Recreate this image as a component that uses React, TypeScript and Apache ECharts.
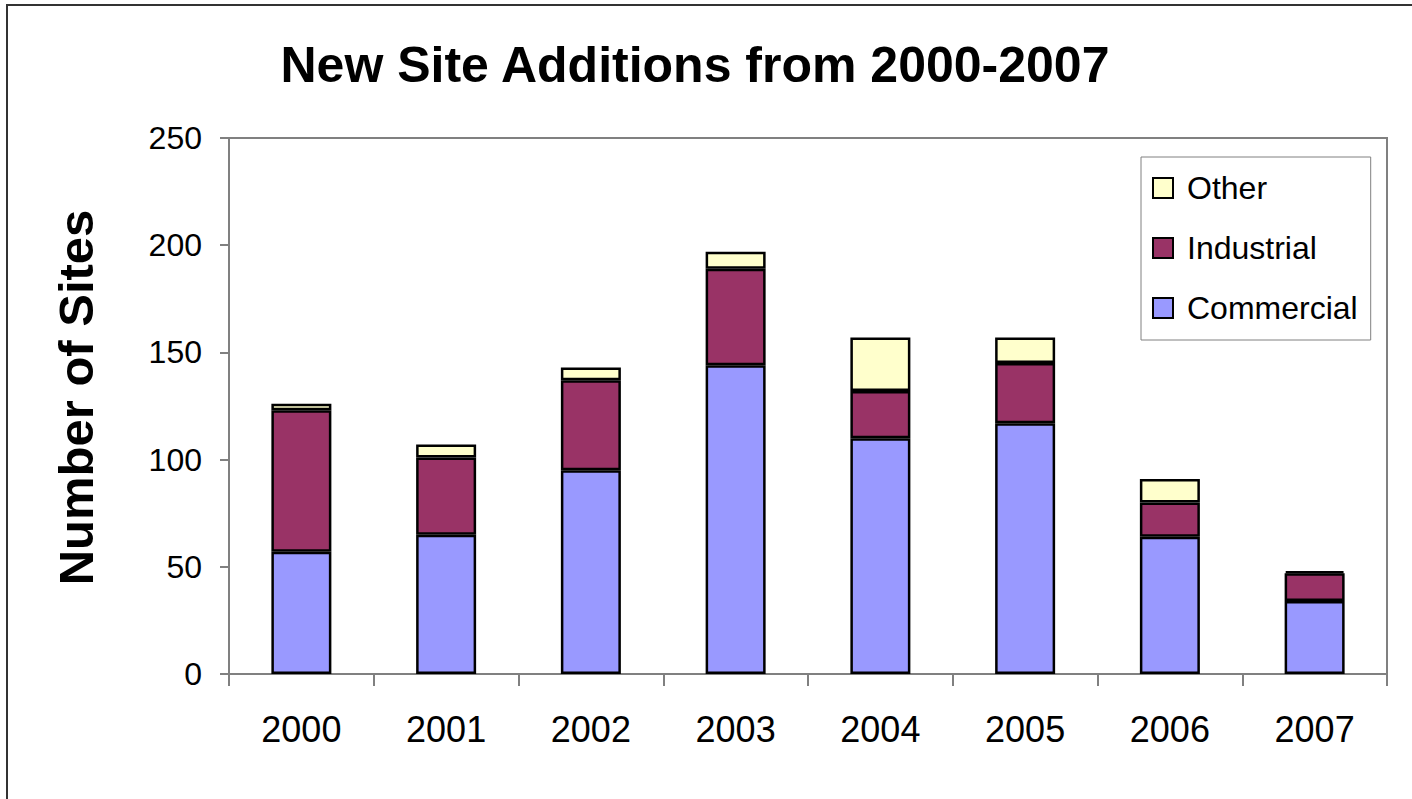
import React, { useEffect, useRef } from "react";
import * as echarts from "echarts";

const categories = ["2000", "2001", "2002", "2003", "2004", "2005", "2006", "2007"];
const commercial = [57, 65, 95, 144, 110, 117, 64, 34];
const industrial = [66, 36, 42, 45, 22, 28, 16, 13];
const other = [3, 6, 6, 8, 25, 12, 11, 1];
const yTicks = [0, 50, 100, 150, 200, 250];

const FONT = "'Liberation Sans', Arial, sans-serif";

export default function App() {
  const ref = useRef<HTMLDivElement>(null);
  useEffect(() => {
    document.body.style.margin = "0";
    const chart = echarts.init(ref.current!, null, { renderer: "svg" });
    const barStyle = (color: string) => ({
      color,
      borderColor: "#000",
      borderWidth: 2.5,
    });
    chart.setOption({
      animation: false,
      backgroundColor: "#fff",
      textStyle: { fontFamily: FONT },
      title: {
        text: "New Site Additions from 2000-2007",
        left: 690,
        top: 35,
        textAlign: "center",
        textStyle: { fontFamily: FONT, fontSize: 50, fontWeight: "bold", color: "#000" },
      },
      graphic: [
        {
          type: "rect",
          shape: { x: 7, y: 5, width: 1600, height: 1000 },
          style: { fill: "none", stroke: "#333", lineWidth: 2 },
          silent: true,
        },
      ],
      legend: {
        orient: "vertical",
        left: 1141,
        top: 157,
        padding: [15, 13, 16, 11],
        itemWidth: 20,
        itemHeight: 20,
        itemGap: 28,
        borderColor: "#808080",
        borderWidth: 1,
        backgroundColor: "#fff",
        icon: "rect",
        data: ["Other", "Industrial", "Commercial"],
        textStyle: { fontFamily: FONT, fontSize: 32, color: "#000", lineHeight: 32, padding: [0, 0, 0, 9] },
      },
      grid: {
        left: 229,
        top: 138,
        right: 25,
        bottom: 125,
        show: true,
        borderColor: "#808080",
        borderWidth: 2,
        containLabel: false,
      },
      xAxis: {
        type: "category",
        data: categories,
        axisLine: { lineStyle: { color: "#808080", width: 2 } },
        axisTick: { show: true, length: 12, inside: false, alignWithLabel: false, lineStyle: { color: "#808080", width: 2 } },
        axisLabel: { fontFamily: FONT, fontSize: 36, color: "#000", margin: 37 },
        splitLine: { show: false },
      },
      yAxis: {
        type: "value",
        min: yTicks[0],
        max: yTicks[yTicks.length - 1],
        interval: yTicks[1] - yTicks[0],
        name: "Number of Sites",
        nameLocation: "middle",
        nameRotate: 90,
        nameGap: 129,
        nameTextStyle: { fontFamily: FONT, fontSize: 49, fontWeight: "bold", color: "#000", padding: [0, 0, 0, 17] },
        axisLine: { show: true, lineStyle: { color: "#808080", width: 2 } },
        axisTick: { show: true, length: 9, lineStyle: { color: "#808080", width: 2 } },
        axisLabel: { fontFamily: FONT, fontSize: 32, color: "#000", margin: 27 },
        splitLine: { show: false },
      },
      series: [
        { name: "Commercial", type: "bar", stack: "s", barWidth: 60, data: commercial, itemStyle: barStyle("#9999FF") },
        { name: "Industrial", type: "bar", stack: "s", barWidth: 60, data: industrial, itemStyle: barStyle("#993366") },
        { name: "Other", type: "bar", stack: "s", barWidth: 60, data: other, itemStyle: barStyle("#FFFFCC") },
      ],
    });
    return () => chart.dispose();
  }, []);
  return <div ref={ref} style={{ width: 1412, height: 799 }} />;
}
